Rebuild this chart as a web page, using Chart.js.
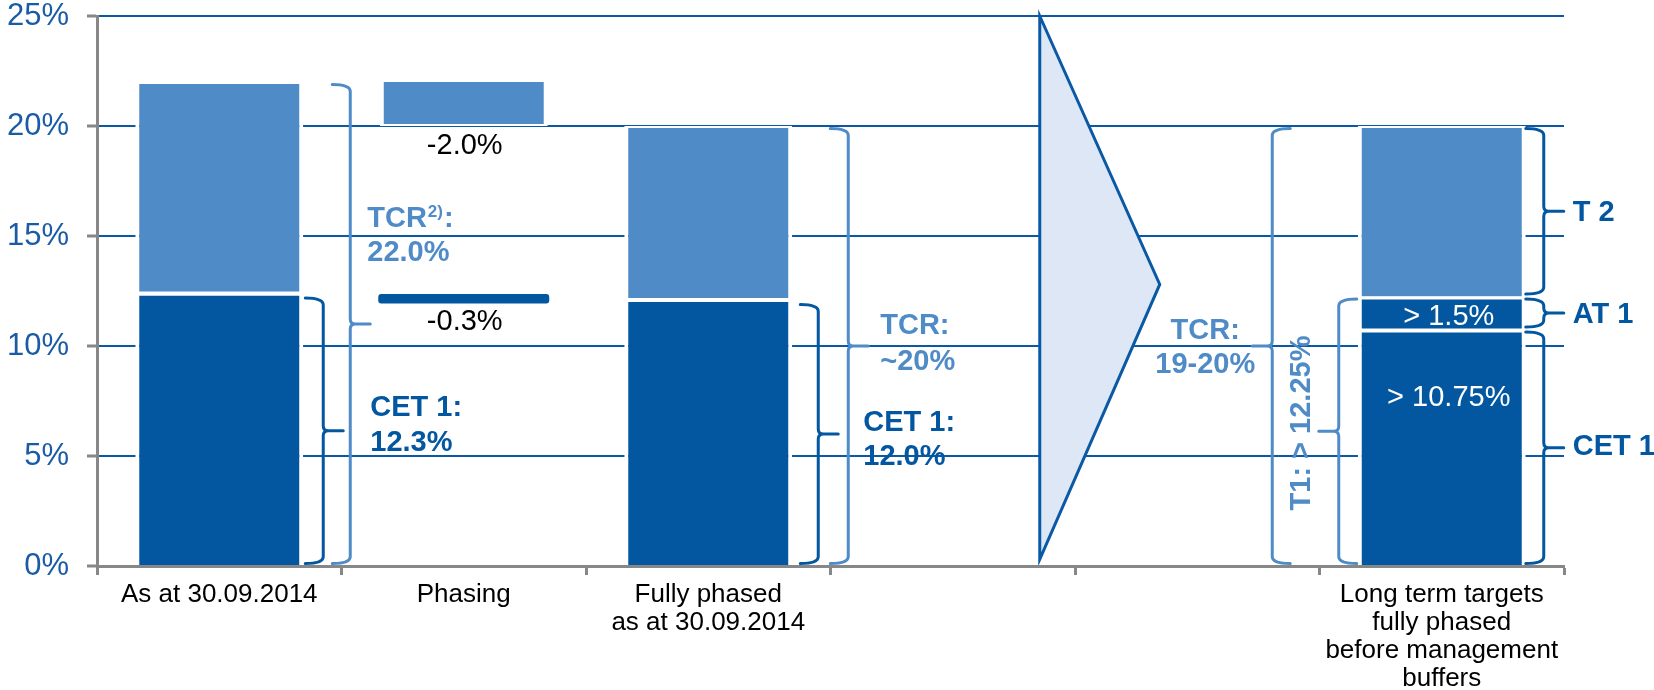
<!DOCTYPE html>
<html>
<head>
<meta charset="utf-8">
<script src="https://cdn.jsdelivr.net/npm/chart.js@4.4.1/dist/chart.umd.min.js"></script>
<style>
  html, body { margin: 0; padding: 0; background: #fff; }
  #wrap { width: 1654px; height: 690px; }
</style>
</head>
<body>
<div id="wrap"><canvas id="capital_chart"></canvas></div>
<script>
const FONT = '"Liberation Sans", Arial, sans-serif'
const DARK = '#0357a1'
const LIGHT = '#4f8bc7'
const GRID = '#0b59a5'
const AXIS = '#878787'
const TICK_BLUE = '#1a5ba6'

// categories (x axis)
const categories = [
  'As at 30.09.2014',
  'Phasing',
  ['Fully phased', 'as at 30.09.2014'],
  '',
  '',
  ['Long term targets', 'fully phased', 'before management', 'buffers'],
]

// capital ratios in %
const cet1 = [12.3, null, 12.0, null, null, 10.75]
const at1 = [null, null, null, null, null, 1.5]
const tier2 = [9.7, null, 8.0, null, null, 7.75]

// phasing effects, floating [from, to]
const phasingTier2 = [null, [20.0, 22.0], null, null, null, null]
const phasingCet1 = [null, [12.0, 12.3], null, null, null, null]

// y axis ticks
const yTicks = [0, 5, 10, 15, 20, 25]

const pct = (v, d) => v.toFixed(d) + '%'

function brace(ctx, x, yTop, yBot, dir, color) {
  // dir 1 -> "}" pointing right, dir -1 -> "{" pointing left
  const hook = 18, tip = 20, r = 7, rt = 5
  const ym = (yTop + yBot) / 2
  ctx.save()
  ctx.strokeStyle = color
  ctx.lineWidth = 3
  ctx.lineCap = 'round'
  ctx.beginPath()
  ctx.moveTo(x - dir * hook, yTop)
  ctx.quadraticCurveTo(x, yTop, x, yTop + r)
  ctx.lineTo(x, ym - rt)
  ctx.quadraticCurveTo(x, ym, x + dir * rt, ym)
  ctx.lineTo(x + dir * tip, ym)
  ctx.moveTo(x + dir * rt, ym)
  ctx.quadraticCurveTo(x, ym, x, ym + rt)
  ctx.lineTo(x, yBot - r)
  ctx.quadraticCurveTo(x, yBot, x - dir * hook, yBot)
  ctx.stroke()
  ctx.restore()
}

function label(ctx, str, px, py, color, bold, align) {
  ctx.font = (bold ? 'bold ' : '') + '29px ' + FONT
  ctx.fillStyle = color
  ctx.textAlign = align || 'left'
  ctx.textBaseline = 'middle'
  ctx.fillText(str, px, py)
}

const annotations = {
  id: 'annotations',
  afterDatasetsDraw(chart) {
    const {ctx, scales: {x, y}} = chart
    const cx = (i, dx) => x.getPixelForValue(i) + dx
    const py = v => y.getPixelForValue(v)
    const total0 = cet1[0] + tier2[0]
    const total2 = cet1[2] + tier2[2]
    const t1Last = cet1[5] + at1[5]
    const totalLast = t1Last + tier2[5]

    // arrow
    ctx.save()
    ctx.beginPath()
    ctx.moveTo(cx(3, 87), py(25))
    ctx.lineTo(cx(3, 207), py(12.8))
    ctx.lineTo(cx(3, 87), py(0.3))
    ctx.closePath()
    ctx.fillStyle = '#dde7f5'
    ctx.fill()
    ctx.strokeStyle = GRID
    ctx.lineWidth = 3
    ctx.lineJoin = 'miter'
    ctx.stroke()
    ctx.restore()

    const ins = 2.5
    // braces
    brace(ctx, cx(0, 104), py(cet1[0]) + ins, py(0) - ins, 1, DARK)
    brace(ctx, cx(0, 131), py(total0) + ins, py(0) - ins, 1, LIGHT)
    brace(ctx, cx(2, 110), py(cet1[2]) + ins, py(0) - ins, 1, DARK)
    brace(ctx, cx(2, 140), py(total2) + ins, py(0) - ins, 1, LIGHT)
    brace(ctx, cx(4, 75), py(totalLast) + ins, py(0) - ins, -1, LIGHT)
    brace(ctx, cx(5, -103), py(t1Last) + ins, py(0) - ins, -1, LIGHT)
    brace(ctx, cx(5, 102), py(totalLast) + ins, py(t1Last) - ins, 1, DARK)
    brace(ctx, cx(5, 102), py(t1Last) + ins, py(cet1[5]) - ins, 1, DARK)
    brace(ctx, cx(5, 102), py(cet1[5]) + ins, py(0) - ins, 1, DARK)

    // TCR 2): 22.0%
    let lx = cx(0, 148)
    label(ctx, 'TCR', lx, py(15.77), LIGHT, true)
    lx += ctx.measureText('TCR').width + 1
    ctx.font = 'bold 17px ' + FONT
    ctx.fillText('2)', lx, py(15.77) - 7)
    lx += ctx.measureText('2)').width + 1
    label(ctx, ':', lx, py(15.77), LIGHT, true)
    label(ctx, pct(total0, 1), cx(0, 148), py(14.23), LIGHT, true)

    label(ctx, 'CET 1:', cx(0, 151), py(7.2), DARK, true)
    label(ctx, pct(cet1[0], 1), cx(0, 151), py(5.61), DARK, true)

    const dT2 = phasingTier2[1][0] - phasingTier2[1][1]
    const dCet = phasingCet1[1][0] - phasingCet1[1][1]
    label(ctx, pct(dT2, 1), cx(1, 1), py(19.1), '#000', false, 'center')
    label(ctx, pct(dCet, 1), cx(1, 1), py(11.1), '#000', false, 'center')

    label(ctx, 'TCR:', cx(2, 172), py(10.9), LIGHT, true)
    label(ctx, '~' + Math.round(total2) + '%', cx(2, 172), py(9.27), LIGHT, true)
    label(ctx, 'CET 1:', cx(2, 155), py(6.5), DARK, true)
    label(ctx, pct(cet1[2], 1), cx(2, 155), py(4.95), DARK, true)

    label(ctx, 'TCR:', cx(4, 8), py(10.68), LIGHT, true, 'center')
    label(ctx, '19-20%', cx(4, 8), py(9.14), LIGHT, true, 'center')

    ctx.save()
    ctx.translate(cx(5, -140), py(6.5))
    ctx.rotate(-Math.PI / 2)
    label(ctx, 'T1: > ' + pct(t1Last, 2), 0, 0, LIGHT, true, 'center')
    ctx.restore()

    label(ctx, '> ' + pct(at1[5], 1), cx(5, 7), py(11.32), '#fff', false, 'center')
    label(ctx, '> ' + pct(cet1[5], 2), cx(5, 7), py(7.64), '#fff', false, 'center')

    label(ctx, 'T 2', cx(5, 131), py(16.05), DARK, true)
    label(ctx, 'AT 1', cx(5, 131), py(11.4), DARK, true)
    label(ctx, 'CET 1', cx(5, 131), py(5.41), DARK, true)
  }
}

const capital_chart = new Chart(document.getElementById('capital_chart'), {
  type: 'bar',
  data: {
    labels: categories,
    datasets: [
      {
        label: 'CET 1',
        data: cet1,
        backgroundColor: DARK,
        borderColor: '#fff',
        borderWidth: c => ({left: 4, right: 4, top: c.dataIndex === 5 ? 3 : 0, bottom: 0}),
        stack: 'main',
      },
      {
        label: 'AT 1',
        data: at1,
        backgroundColor: DARK,
        borderColor: '#fff',
        borderWidth: {left: 4, right: 4, top: 3, bottom: 1},
        stack: 'main',
      },
      {
        label: 'T 2',
        data: tier2,
        backgroundColor: LIGHT,
        borderColor: '#fff',
        borderWidth: c => ({left: 4, right: 4, top: 2, bottom: c.dataIndex === 5 ? 0 : 4}),
        stack: 'main',
      },
      {
        label: 'Phasing T 2',
        data: phasingTier2,
        backgroundColor: LIGHT,
        borderColor: '#fff',
        borderWidth: {left: 4, right: 4, top: 0, bottom: 2},
        stack: 'p1',
      },
      {
        label: 'Phasing CET 1',
        data: phasingCet1,
        backgroundColor: DARK,
        borderWidth: 0,
        borderRadius: 3,
        inflateAmount: 1.5,
        stack: 'p2',
      },
    ]
  },
  options: {
    responsive: true,
    maintainAspectRatio: false,
    animation: false,
    layout: {padding: {left: 0, top: 16, right: 90, bottom: 0}},
    datasets: {
      bar: {
        grouped: false,
        borderSkipped: false,
        categoryPercentage: 1,
        barPercentage: 0.687,
      }
    },
    plugins: {
      legend: {display: false},
      tooltip: {enabled: false},
    },
    scales: {
      x: {
        stacked: false,
        grid: {
          display: true,
          drawOnChartArea: false,
          offset: true,
          tickLength: 9,
          tickColor: AXIS,
          tickWidth: 3,
          color: AXIS,
        },
        border: {color: AXIS, width: 3, z: 1},
        ticks: {
          autoSkip: false,
          maxRotation: 0,
          minRotation: 0,
          padding: 6,
          color: '#000',
          font: {size: 26, family: FONT, lineHeight: 1.077},
        },
        afterFit: s => { s.height = 124 },
      },
      y: {
        stacked: true,
        min: 0,
        max: 25,
        afterBuildTicks: s => { s.ticks = yTicks.map(v => ({value: v})) },
        grid: {
          color: GRID,
          lineWidth: 2,
          tickColor: AXIS,
          tickWidth: 3,
          tickLength: 10,
        },
        border: {color: AXIS, width: 3, z: 1},
        ticks: {
          padding: 18,
          color: TICK_BLUE,
          font: {size: 31, family: FONT, lineHeight: 1},
          callback: v => v + '%',
        },
        afterFit: s => {
          s.width = 97
          s.paddingTop = 0
          s.paddingBottom = 0
        },
      }
    }
  },
  plugins: [annotations]
})
</script>
</body>
</html>
